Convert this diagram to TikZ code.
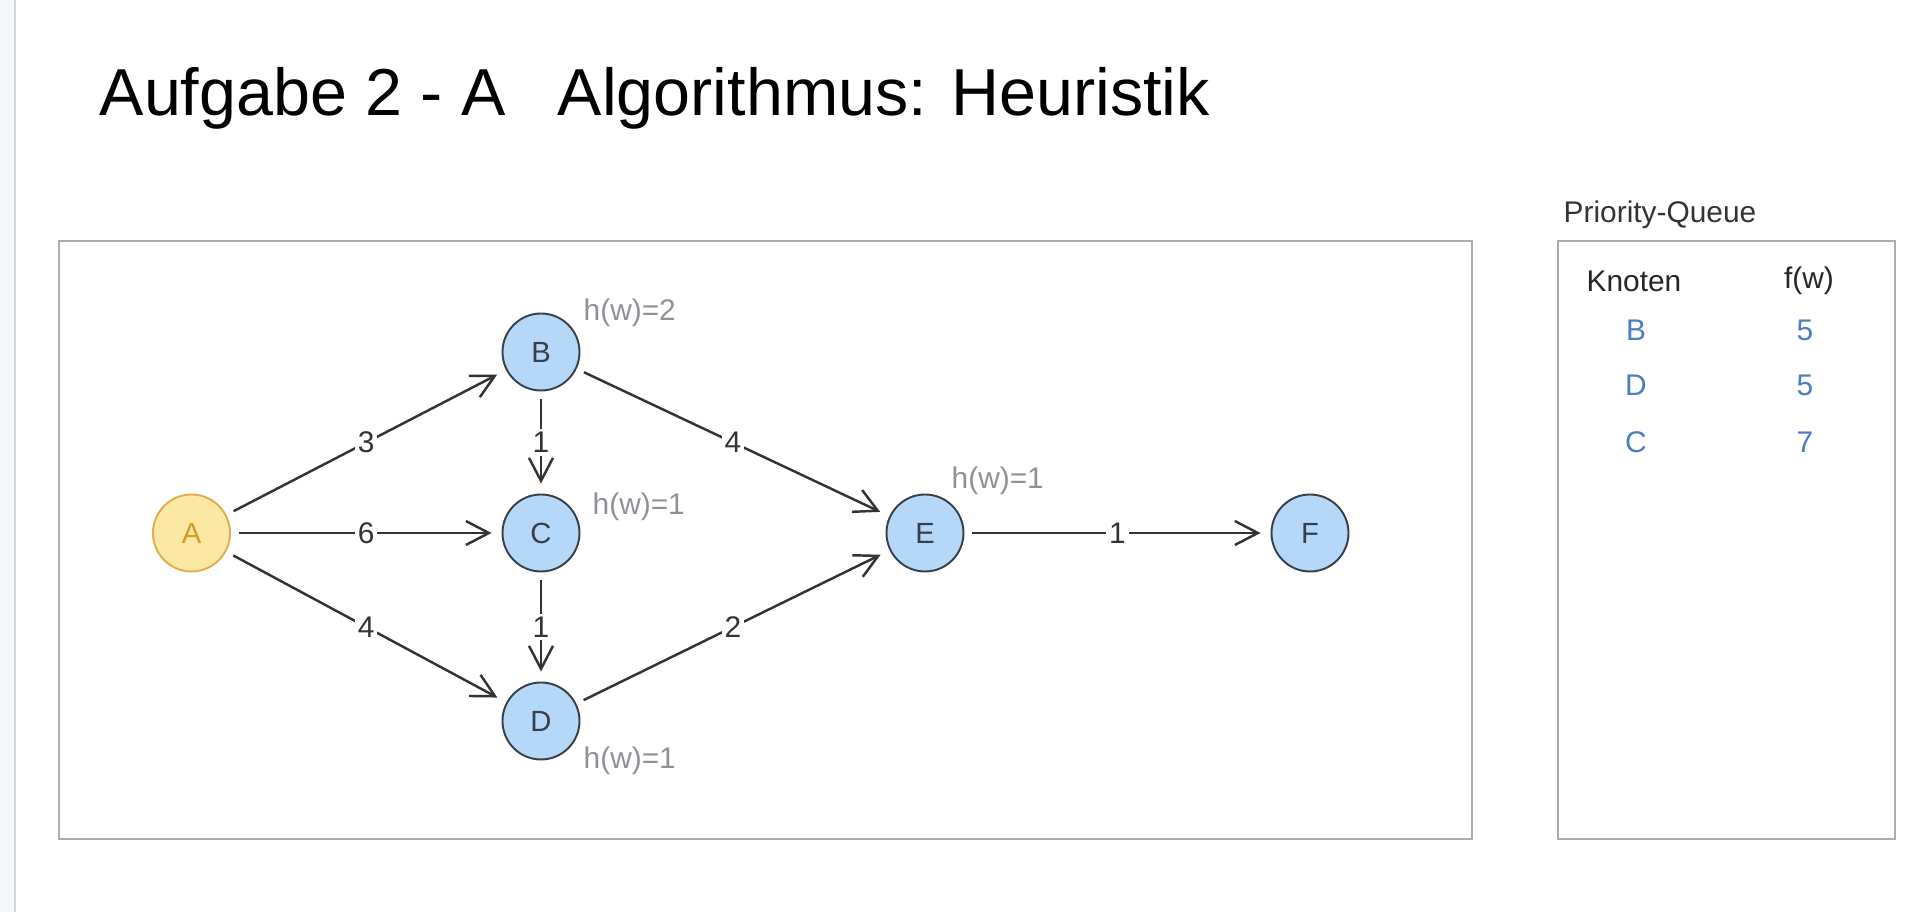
\documentclass[tikz,border=0pt]{standalone}
\usepackage{fontspec}
\setmainfont{Liberation Sans}
\usetikzlibrary{arrows.meta,positioning}

\definecolor{knotblue}{HTML}{B5D8F8}
\definecolor{knotline}{HTML}{36404A}
\definecolor{startfill}{HTML}{FBE8A2}
\definecolor{startline}{HTML}{DDAE4E}
\definecolor{starttext}{HTML}{D69A2B}
\definecolor{kantecol}{HTML}{333333}
\definecolor{heurgray}{HTML}{8E9297}
\definecolor{queueblue}{HTML}{4A7EBE}
\definecolor{boxgray}{HTML}{A9ACB1}
\definecolor{sidegray}{HTML}{F5F7FA}
\definecolor{sideline}{HTML}{D3D7DC}

\tikzset{
	knot/.style={circle, draw=knotline, fill=knotblue, line width=0.55pt, minimum size=0.77cm, inner sep=0pt, text=knotline, font=\fontsize{8.3}{10}\selectfont},
	startknot/.style={knot, draw=startline, fill=startfill, text=starttext},
	kante/.style={line width=0.7pt, color=kantecol, shorten <=0.08cm, shorten >=0.10cm, -{Straight Barb[length=0.23cm,width=0.24cm]}},
	gewicht/.style={fill=white, inner sep=0.8pt, text=kantecol, font=\fontsize{8.5}{10}\selectfont},
	heur/.style={anchor=west, inner sep=0pt, text=heurgray, font=\fontsize{8.5}{10}\selectfont},
	queue/.style={inner sep=0pt, text=queueblue, font=\fontsize{8.5}{10}\selectfont},
}

\begin{document}
\begin{tikzpicture}
			%%%%% START %%%%%
			\useasboundingbox (0, 0) rectangle (19.24, 9.12);
			
			\fill[color=sidegray] (0, 0) rectangle (0.15, 9.12);
			\draw[line width=0.4pt, color=sideline] (0.15, 0) -- (0.15, 9.12);
			
			\node[anchor=base west, inner sep=0pt, font=\fontsize{18.9}{22}\selectfont] (titel) at (0.99, 7.96) {Aufgabe 2 - A\hspace{0.52cm}Algorithmus: Heuristik};
			
			\draw[line width=0.6pt, color=boxgray] (0.59, 0.73) rectangle (14.72, 6.71);
			\draw[line width=0.6pt, color=boxgray] (15.58, 0.73) rectangle (18.95, 6.71);
			
			\node[anchor=west, inner sep=0pt, text=kantecol, font=\fontsize{8.5}{10}\selectfont] (pq) at (15.63, 6.97) {Priority-Queue};
			\node[inner sep=0pt, text=black!85, font=\fontsize{8.5}{10}\selectfont] (knoten) at (16.34, 6.31) {Knoten};
			\node[inner sep=0pt, text=black!85, font=\fontsize{8.5}{10}\selectfont] (fw) at (18.09, 6.31) {f(w)};
			
			\node[queue] (qB) at (16.36, 5.82) {B};
			\node[queue] (qB5) at (18.05, 5.82) {5};
			\node[queue] (qD) at (16.36, 5.27) {D};
			\node[queue] (qD5) at (18.05, 5.27) {5};
			\node[queue] (qC) at (16.36, 4.70) {C};
			\node[queue] (qC7) at (18.05, 4.70) {7};
			
			\node[startknot] (A) at (1.915, 3.79) {A};
			\node[knot] (B) at (5.41, 5.60) {B};
			\node[knot] (C) at (5.41, 3.79) {C};
			\node[knot] (D) at (5.41, 1.91) {D};
			\node[knot] (E) at (9.25, 3.79) {E};
			\node[knot] (F) at (13.10, 3.79) {F};
			
			\node[heur] (hB) at ([xshift=0.42cm, yshift=0.39cm]B.center) {h(w)=2};
			\node[heur] (hC) at ([xshift=0.51cm, yshift=0.26cm]C.center) {h(w)=1};
			\node[heur] (hD) at ([xshift=0.42cm, yshift=-0.40cm]D.center) {h(w)=1};
			\node[heur] (hE) at ([xshift=0.26cm, yshift=0.52cm]E.center) {h(w)=1};
			
			\draw[kante] (A) -- node[gewicht] (gAB) {3} (B);
			\draw[kante] (A) -- node[gewicht] (gAC) {6} (C);
			\draw[kante] (A) -- node[gewicht] (gAD) {4} (D);
			\draw[kante] (B) -- node[gewicht] (gBC) {1} (C);
			\draw[kante] (C) -- node[gewicht] (gCD) {1} (D);
			\draw[kante] (B) -- node[gewicht] (gBE) {4} (E);
			\draw[kante] (D) -- node[gewicht] (gDE) {2} (E);
			\draw[kante] (E) -- node[gewicht] (gEF) {1} (F);
			
			%%%%% END %%%%%
\end{tikzpicture}
\end{document}
